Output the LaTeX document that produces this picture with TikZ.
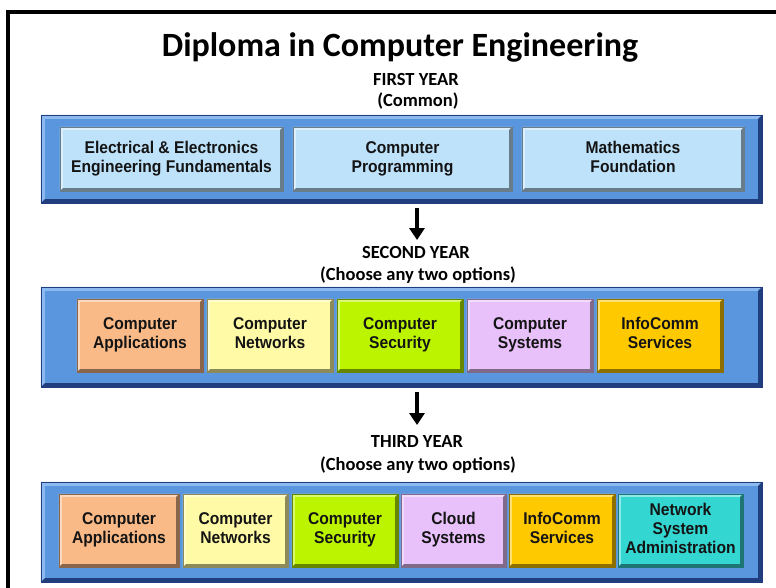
\documentclass[tikz,border=0pt]{standalone}
\usepackage{fontspec}
\setmainfont{Carlito}
\newfontfamily\boxfont[FakeStretch=0.92]{Liberation Sans}
\usetikzlibrary{arrows.meta}

\definecolor{panelblue}{RGB}{90,150,222}
\definecolor{panelhi}{RGB}{140,185,240}
\definecolor{paneldark}{RGB}{32,62,125}
\definecolor{cblue}{RGB}{190,226,250}
\definecolor{corange}{RGB}{249,186,136}
\definecolor{cyellow}{RGB}{255,250,165}
\definecolor{clime}{RGB}{188,244,0}
\definecolor{clilac}{RGB}{232,192,250}
\definecolor{cgold}{RGB}{255,201,0}
\definecolor{cteal}{RGB}{52,214,210}

\tikzset{
  panel/.style={fill=panelblue, draw=none, inner sep=0pt},
  course/.style={fill=#1, draw=none, inner sep=0pt, align=center,
    font=\boxfont\bfseries\fontsize{17}{19}\selectfont, text=black!92},
  maintitle/.style={font=\bfseries\fontsize{34}{40}\selectfont},
  heading/.style={font=\bfseries\fontsize{18.5}{21}\selectfont},
  yeararrow/.style={-{Triangle[length=12pt,width=15pt]}, line width=3.5pt},
}

% bevelled edge: light top/left, dark bottom/right, thin outline
\newcommand\bevel[4]{%
  \fill[#3] (#1.north west) -- (#1.north east) -- ([shift={(-#2,-#2)}]#1.north east)
    -- ([shift={(#2,-#2)}]#1.north west) -- ([shift={(#2,#2)}]#1.south west)
    -- (#1.south west) -- cycle;
  \fill[#4] (#1.south west) -- (#1.south east) -- (#1.north east)
    -- ([shift={(-#2,-#2)}]#1.north east) -- ([shift={(-#2,#2)}]#1.south east)
    -- ([shift={(#2,#2)}]#1.south west) -- cycle;
  \draw[#4, line width=0.5pt] (#1.north west) rectangle (#1.south east);
}
% course box: name, colour, x, y, width, height, text
\newcommand\course[7]{%
  \node[course=#2, minimum width=#5pt, minimum height=#6pt] (#1) at (#3,#4) {\strut#7\strut};
  \bevel{#1}{3pt}{#2!55!white}{#2!55!black}%
}

\begin{document}
\begin{tikzpicture}[x=1pt, y=-1pt]
\useasboundingbox (0,0) rectangle (776,588);

% frame
\draw[line width=4pt] (776,12) -- (7.5,12) -- (7.5,588);

% titles
\node[maintitle] (title) at (400,47) {Diploma in Computer Engineering};
\node[heading] (y1head) at (416,79) {FIRST YEAR};
\node[heading] (y1sub) at (418,101) {(Common)};

% first year
\node[panel, minimum width=721pt, minimum height=88pt] (p1) at (401.5,159) {};
\bevel{p1}{4pt}{panelhi}{paneldark}
\course{eee}{cblue}{171.5}{159}{223}{64}{Electrical \& Electronics\\Engineering Fundamentals}
\course{prog}{cblue}{402.5}{159}{219}{64}{Computer\\Programming}
\course{math}{cblue}{633}{159}{222}{64}{Mathematics\\Foundation}

\coordinate (a1s) at (417,208);
\coordinate (a1e) at (417,240);
\draw[yeararrow] (a1s) -- (a1e);

\node[heading] (y2head) at (416,252) {SECOND YEAR};
\node[heading] (y2sub) at (418,275) {(Choose any two options)};

% second year
\node[panel, minimum width=721pt, minimum height=100pt] (p2) at (401.5,337) {};
\bevel{p2}{4pt}{panelhi}{paneldark}
\course{sapp}{corange}{140}{335.5}{126}{73}{Computer\\Applications}
\course{snet}{cyellow}{270}{335.5}{126}{73}{Computer\\Networks}
\course{ssec}{clime}{400}{335.5}{126}{73}{Computer\\Security}
\course{ssys}{clilac}{530}{335.5}{126}{73}{Computer\\Systems}
\course{sinf}{cgold}{660}{335.5}{126}{73}{InfoComm\\Services}

\coordinate (a2s) at (417,392);
\coordinate (a2e) at (417,425);
\draw[yeararrow] (a2s) -- (a2e);

\node[heading] (y3head) at (417,441) {THIRD YEAR};
\node[heading] (y3sub) at (418,465) {(Choose any two options)};

% third year
\node[panel, minimum width=721pt, minimum height=100pt] (p3) at (401.5,532) {};
\bevel{p3}{4pt}{panelhi}{paneldark}
\course{tapp}{corange}{119}{530.5}{120}{73}{Computer\\Applications}
\course{tnet}{cyellow}{235.5}{530.5}{105}{73}{Computer\\Networks}
\course{tsec}{clime}{345}{530.5}{106}{73}{Computer\\Security}
\course{tcld}{clilac}{453.5}{530.5}{105}{73}{Cloud\\Systems}
\course{tinf}{cgold}{562}{530.5}{106}{73}{InfoComm\\Services}
\course{tnsa}{cteal}{680.5}{530.5}{125}{73}{Network\\System\\Administration}
\end{tikzpicture}
\end{document}
